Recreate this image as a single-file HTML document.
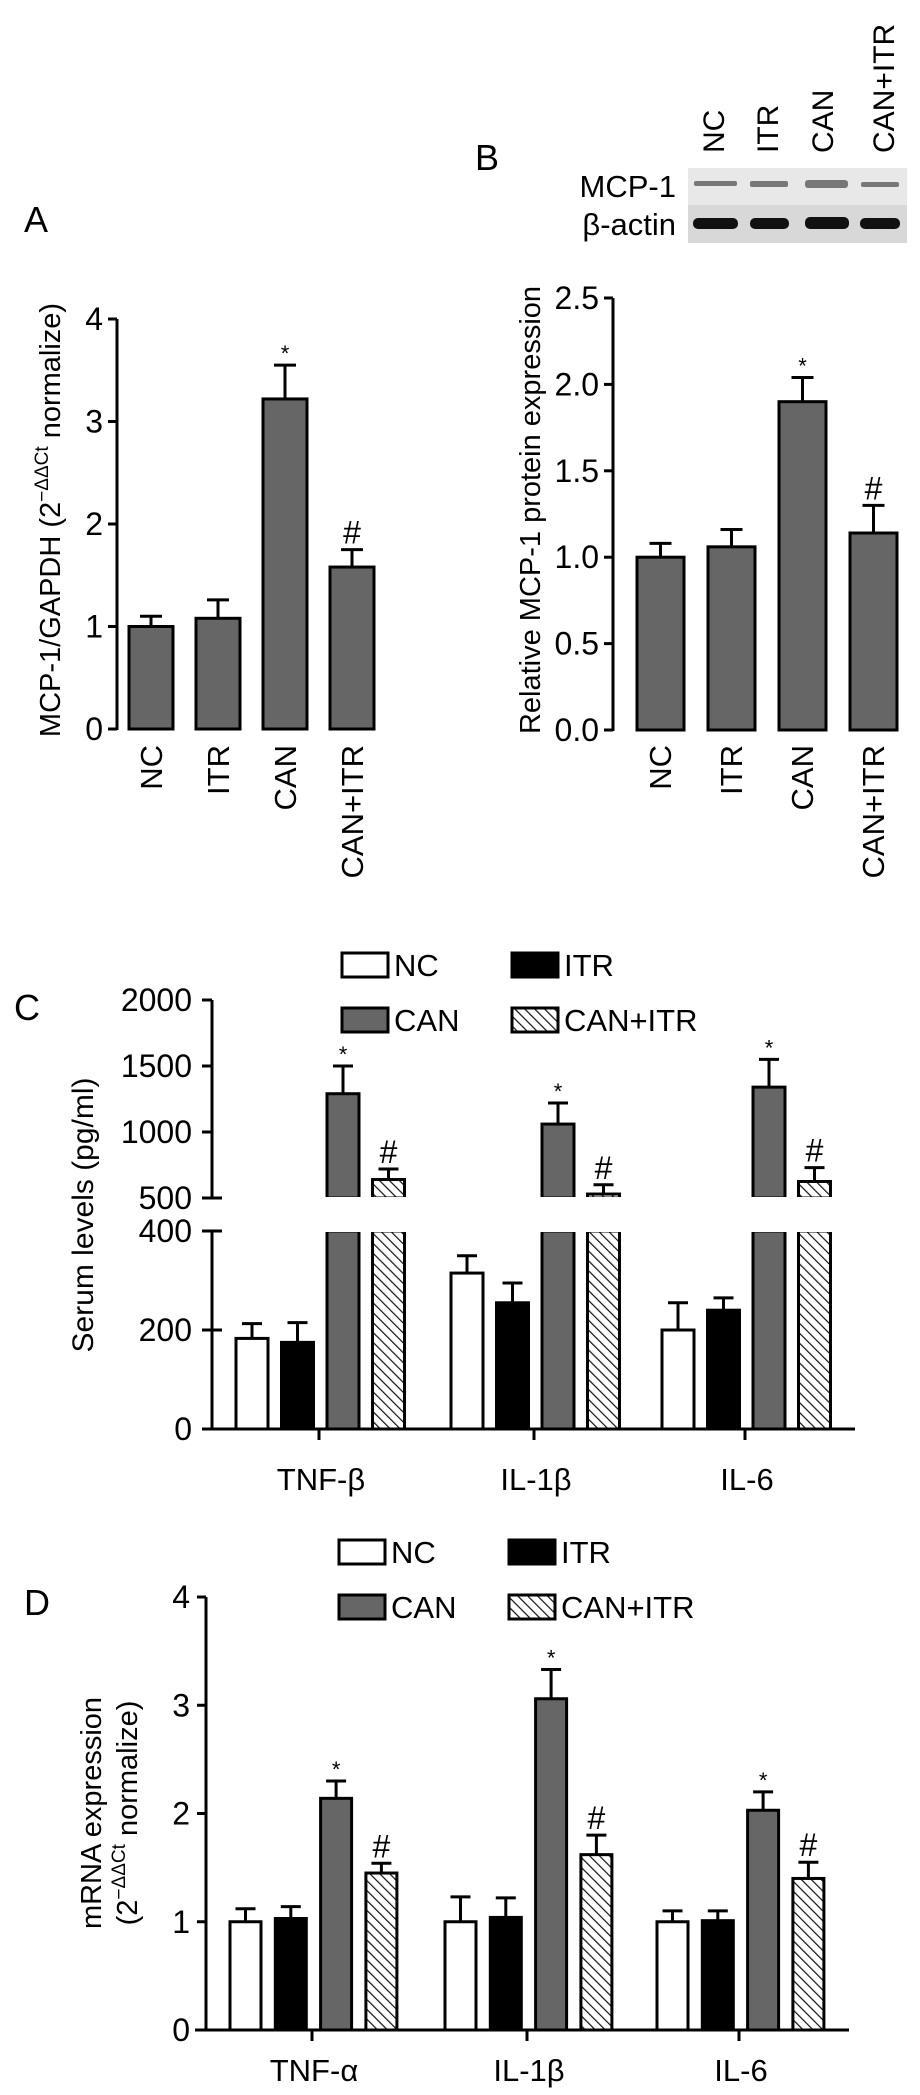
<!DOCTYPE html>
<html><head><meta charset="utf-8"><style>
html,body{margin:0;padding:0;background:#fff;}
svg{display:block;font-family:"Liberation Sans",Arial,sans-serif;}
</style></head><body>
<svg id="fig" width="920" height="2095" viewBox="0 0 920 2095" xmlns="http://www.w3.org/2000/svg">
<defs>
<pattern id="hatch" patternUnits="userSpaceOnUse" width="7" height="7" patternTransform="rotate(-45)">
<rect width="7" height="7" fill="#fff"/><line x1="0" y1="0" x2="0" y2="7" stroke="#111" stroke-width="2.4"/>
</pattern>
<linearGradient id="blotbg" x1="0" y1="0" x2="0" y2="1"><stop offset="0" stop-color="#e6e6e6"/><stop offset="1" stop-color="#dcdcdc"/></linearGradient>
</defs>
<!-- panel letters -->
<text x="24" y="232" font-size="36">A</text>
<text x="475" y="170" font-size="36">B</text>
<text x="14" y="1020" font-size="36">C</text>
<text x="24" y="1615" font-size="36">D</text>
<!-- blot -->
<g>
<rect x="688" y="168" width="219" height="37" fill="#e8e8e8"/>
<rect x="688" y="205" width="219" height="38" fill="#d8d8d8"/>
<text x="676" y="197" font-size="31" text-anchor="end">MCP-1</text>
<text x="676" y="235" font-size="31" text-anchor="end">β-actin</text>
<g fill="#777"><rect x="694" y="181" width="43" height="5" rx="2"/><rect x="750" y="181" width="38" height="6" rx="2"/><rect x="805" y="180" width="43" height="8" rx="3"/><rect x="861" y="182" width="38" height="5" rx="2"/></g>
<g fill="#111"><rect x="693" y="218" width="45" height="11" rx="5"/><rect x="750" y="218" width="39" height="11" rx="5"/><rect x="805" y="217" width="44" height="12" rx="5"/><rect x="860" y="218" width="40" height="11" rx="5"/></g>
<text transform="translate(724,153) rotate(-90)" font-size="30">NC</text>
<text transform="translate(778,153) rotate(-90)" font-size="30">ITR</text>
<text transform="translate(833,153) rotate(-90)" font-size="30">CAN</text>
<text transform="translate(894,153) rotate(-90)" font-size="30">CAN+ITR</text>
</g>
<!-- y titles -->
<text transform="translate(60,520) rotate(-90)" font-size="29" text-anchor="middle">MCP-1/GAPDH (2<tspan font-size="19" dy="-12">−ΔΔCt</tspan><tspan dy="12"> normalize)</tspan></text>
<text transform="translate(540,510) rotate(-90)" font-size="29" text-anchor="middle">Relative MCP-1 protein expression</text>
<text transform="translate(93,1215) rotate(-90)" font-size="30" text-anchor="middle">Serum levels (pg/ml)</text>
<text transform="translate(101,1813) rotate(-90)" font-size="29" text-anchor="middle">mRNA expression</text>
<text transform="translate(137,1813) rotate(-90)" font-size="29" text-anchor="middle">(2<tspan font-size="19" dy="-12">−ΔΔCt</tspan><tspan dy="12"> normalize)</tspan></text>
<g id="plots"></g>
</svg>
<script>
// Panel A
const aCats = ["NC","ITR","CAN","CAN+ITR"];
const aVals = [1.0, 1.08, 3.22, 1.58];
const aErr = [1.1, 1.26, 3.55, 1.75];
const aMarks = ["", "", "*", "#"];
const aTicks = [0,1,2,3,4];
// Panel B
const bCats = ["NC","ITR","CAN","CAN+ITR"];
const bVals = [1.0, 1.06, 1.9, 1.14];
const bErr = [1.08, 1.16, 2.04, 1.30];
const bMarks = ["", "", "*", "#"];
const bTicks = ["0.0","0.5","1.0","1.5","2.0","2.5"];
// Panel C
const cGroups = ["TNF-β","IL-1β","IL-6"];
const cSeries = ["NC","ITR","CAN","CAN+ITR"];
const cNC = [183, 315, 200];
const cITR = [175, 255, 240];
const cCAN = [1290, 1060, 1340];
const cCANITR = [640, 530, 625];
const cErrNC = [213, 350, 255];
const cErrITR = [215, 295, 265];
const cErrCAN = [1500, 1220, 1550];
const cErrCANITR = [720, 600, 730];
const cTicksLow = [0, 200, 400];
const cTicksHigh = [500, 1000, 1500, 2000];
// Panel D
const dGroups = ["TNF-α","IL-1β","IL-6"];
const dNC = [1.0, 1.0, 1.0];
const dITR = [1.03, 1.04, 1.01];
const dCAN = [2.14, 3.06, 2.03];
const dCANITR = [1.45, 1.62, 1.4];
const dErrNC = [1.12, 1.23, 1.1];
const dErrITR = [1.14, 1.22, 1.1];
const dErrCAN = [2.3, 3.33, 2.2];
const dErrCANITR = [1.54, 1.8, 1.55];
const dTicks = [0,1,2,3,4];

const NS="http://www.w3.org/2000/svg";
const root=document.getElementById('plots');
function mk(tag,attrs,parent){const e=document.createElementNS(NS,tag);for(const k in attrs)e.setAttribute(k,attrs[k]);(parent||root).appendChild(e);return e;}
function txt(x,y,s,size,anchor,parent){const t=mk('text',{x:x,y:y,'font-size':size,'text-anchor':anchor||'start'},parent);t.textContent=s;return t;}
const fills=["#fff","#000","#666","url(#hatch)"];

function errBar(g,cx,yTop,yErr,cap){
  const l=mk('line',{x1:cx,x2:cx,y1:yTop,y2:yErr,stroke:'#000','stroke-width':3},g);
  
  
  mk('line',{x1:cx-cap/2,x2:cx+cap/2,y1:yErr,y2:yErr,stroke:'#000','stroke-width':3},g);
}
function mark(g,cx,y,m){
  if(!m)return;
  if(m==="*")txt(cx,y-4,"*",22,'middle',g);
  else txt(cx,y-6,"#",32,'middle',g);
}

// Simple panels A & B
function simplePanel(name,cats,vals,errs,marks,ticks,ax,y0,yTop,vmax,bar0,pitch,bw,labelX){
  const g=mk('g',{});
  
  
  const y=v=>y0-(v/vmax)*(y0-yTop);
  mk('line',{x1:ax,x2:ax,y1:y0+1,y2:yTop,stroke:'#000','stroke-width':3},g);
  ticks.forEach(t=>{const v=parseFloat(t);mk('line',{x1:ax-9,x2:ax,y1:y(v),y2:y(v),stroke:'#000','stroke-width':3},g);
    const tl=txt(ax-14,y(v)+11,String(t),32,'end',g);
    
    });
  cats.forEach((c,i)=>{
    const x=bar0+i*pitch;
    const r=mk('rect',{x:x,y:y(vals[i]),width:bw,height:y0-y(vals[i]),fill:'#666',stroke:'#000','stroke-width':3},g);
    
    
    errBar(g,x+bw/2,y(vals[i]),y(errs[i]),22);
    mark(g,x+bw/2,y(errs[i]),marks[i]);
    const l=mk('text',{transform:`translate(${labelX[i]},745) rotate(-90)`,'font-size':31,'text-anchor':'end'},g);
    l.textContent=c;
    
    
  });
}
simplePanel('panel-a-chart',aCats,aVals,aErr,aMarks,aTicks,117,729,319,4,129,67,44,[162,229,296,363]);
simplePanel('panel-b-chart',bCats,bVals,bErr,bMarks,bTicks,613,730,298,2.5,637,71,47,[671,742,813,884]);

function legend(name,x0,y1,y2){
  const g=mk('g',{});
  
  
  const pos=[[x0,y1],[x0+170,y1],[x0,y2],[x0+170,y2]];
  cSeries.forEach((s,i)=>{
    const e=mk('g',{},g);
    
    
    mk('rect',{x:pos[i][0],y:pos[i][1]-12,width:46,height:24,fill:fills[i],stroke:'#000','stroke-width':3},e);
    txt(pos[i][0]+52,pos[i][1]+11,s,31,'start',e);
  });
}

// Panel C (broken axis)
(function(){
  const g=mk('g',{});
  
  
  const ax=212, y0=1429, yLowTop=1231, yHighBot=1198, yHighTop=1000;
  const yL=v=>y0-(v/400)*(y0-yLowTop);
  const yH=v=>yHighBot-((v-500)/1500)*(yHighBot-yHighTop);
  const yv=v=>v<=400?yL(v):yH(v);
  mk('line',{x1:ax,x2:ax,y1:y0,y2:yLowTop,stroke:'#000','stroke-width':3},g);
  mk('line',{x1:ax,x2:ax,y1:yHighBot,y2:yHighTop,stroke:'#000','stroke-width':3},g);
  mk('line',{x1:202,x2:855,y1:y0,y2:y0,stroke:'#000','stroke-width':3},g);
  cTicksLow.forEach(t=>{mk('line',{x1:ax-10,x2:ax+10,y1:yL(t),y2:yL(t),stroke:'#000','stroke-width':3},g);txt(ax-20,yL(t)+11,String(t),32,'end',g);});
  cTicksHigh.forEach(t=>{mk('line',{x1:ax-10,x2:ax+(t===500?10:0),y1:yH(t),y2:yH(t),stroke:'#000','stroke-width':3},g);txt(ax-20,yH(t)+11,String(t),32,'end',g);});
  const vals=[cNC,cITR,cCAN,cCANITR], errs=[cErrNC,cErrITR,cErrCAN,cErrCANITR];
  const marks=["","","*","#"];
  const centers=[319,534,745];
  cGroups.forEach((grp,gi)=>{
    mk('line',{x1:centers[gi],x2:centers[gi],y1:y0,y2:y0+11,stroke:'#000','stroke-width':3},g);
    const tl=txt(centers[gi]+2,1490,grp,31,'middle',g);
    
    
    vals.forEach((arr,si)=>{
      const x=centers[gi]-83+si*45.5, w=32, v=arr[gi];
      if(v<=400){
        const r=mk('rect',{x:x,y:yL(v),width:w,height:y0-yL(v),fill:fills[si],stroke:'#000','stroke-width':3},g);
        
        
        errBar(g,x+w/2,yL(v),yL(errs[si][gi]),20);
      } else {
        const r=mk('rect',{x:x,y:yLowTop,width:w,height:y0-yLowTop,fill:fills[si],stroke:'#000','stroke-width':3},g);
        
        
        mk('rect',{x:x-1.5,y:yLowTop-3,width:w+3,height:4,fill:'#fff'},g);
        const r2=mk('rect',{x:x,y:yH(v),width:w,height:yHighBot-yH(v),fill:fills[si],stroke:'#000','stroke-width':3},g);
        
        
        mk('rect',{x:x-1.5,y:yHighBot-1,width:w+3,height:4,fill:'#fff'},g);
        errBar(g,x+w/2,yH(v),yH(errs[si][gi]),20);
      }
      mark(g,x+w/2,yv(errs[si][gi]),marks[si]);
    });
  });
  legend('panel-c-legend',342,965,1020);
})();

// Panel D
(function(){
  const g=mk('g',{});
  
  
  const ax=206,y0=2030,yTop=1597;
  const y=v=>y0-(v/4)*(y0-yTop);
  mk('line',{x1:ax,x2:ax,y1:y0,y2:yTop,stroke:'#000','stroke-width':3},g);
  mk('line',{x1:195,x2:849,y1:y0,y2:y0,stroke:'#000','stroke-width':3},g);
  dTicks.forEach(t=>{mk('line',{x1:ax-9,x2:ax,y1:y(t),y2:y(t),stroke:'#000','stroke-width':3},g);txt(ax-16,y(t)+11,String(t),32,'end',g);});
  const vals=[dNC,dITR,dCAN,dCANITR], errs=[dErrNC,dErrITR,dErrCAN,dErrCANITR];
  const marks=["","","*","#"];
  const centers=[312,527,739];
  dGroups.forEach((grp,gi)=>{
    mk('line',{x1:centers[gi],x2:centers[gi],y1:y0,y2:y0+11,stroke:'#000','stroke-width':3},g);
    const tl=txt(centers[gi]+2,2081,grp,31,'middle',g);
    
    
    vals.forEach((arr,si)=>{
      const x=centers[gi]-82+si*45.3, w=31, v=arr[gi];
      const r=mk('rect',{x:x,y:y(v),width:w,height:y0-y(v),fill:fills[si],stroke:'#000','stroke-width':3},g);
      
      
      errBar(g,x+w/2,y(v),y(errs[si][gi]),20);
      mark(g,x+w/2,y(errs[si][gi]),marks[si]);
    });
  });
  legend('panel-d-legend',339,1552,1607);
})();
</script>
</body></html>
